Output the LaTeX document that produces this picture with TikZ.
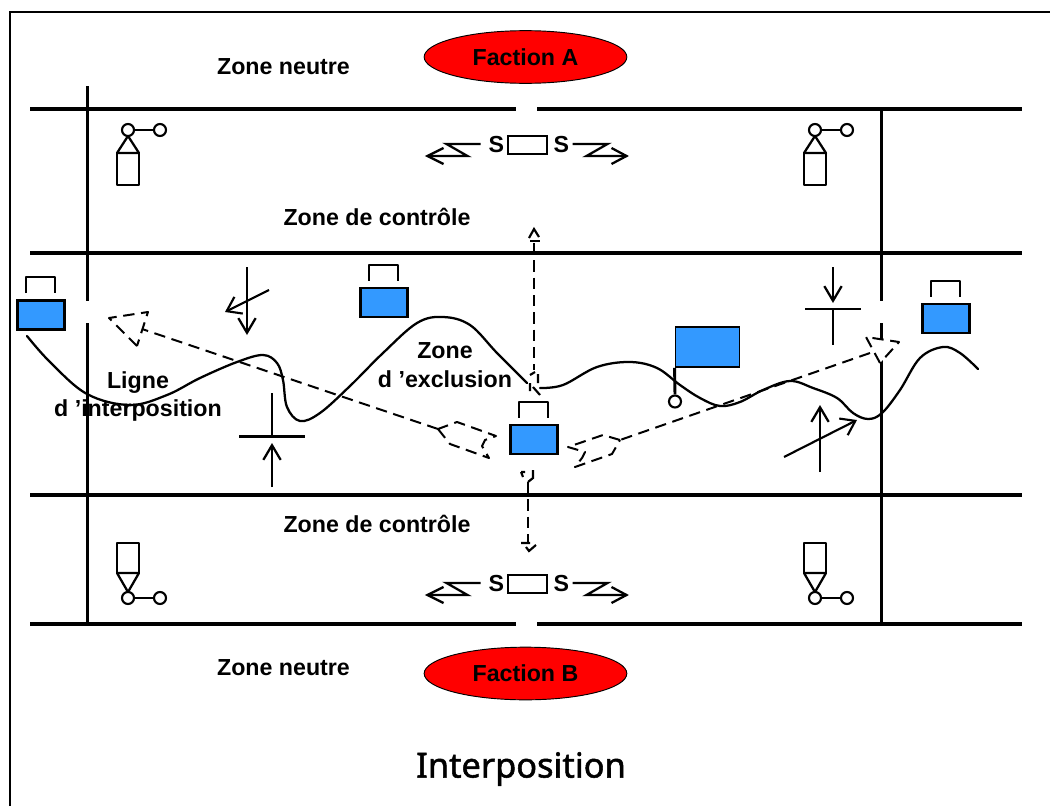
\documentclass[tikz,border=0pt]{standalone}
\usepackage{fontspec}
\setmainfont{Liberation Sans}
\newfontfamily\titlefont[FakeBold=1.5]{Noto Sans}
\usetikzlibrary{arrows.meta,shapes.geometric}
\definecolor{unitblue}{RGB}{51,153,255}
\tikzset{
  x=0.75pt,y=-0.75pt,
  wall/.style={line width=2.4pt},
  frontier/.style={line width=1.7pt,line cap=round},
  dashline/.style={line width=1.5pt,dash pattern=on 8.5pt off 5pt},
  dashvert/.style={line width=2.2pt,dash pattern=on 8.5pt off 4.5pt},
  tick/.style={line width=1.6pt},
  label/.style={font=\fontsize{17.4}{21.5}\selectfont\bfseries,inner sep=0pt,align=center},
  faction/.style={ellipse,draw=black,line width=0.7pt,fill=red,minimum width=152pt,minimum height=39.5pt,inner sep=0pt,font=\fontsize{17.4}{21}\selectfont\bfseries},
  unitbox/.style={draw=black,line width=1.8pt,fill=unitblue,minimum width=35.5pt,minimum height=21.5pt,inner sep=0pt},
  flagbox/.style={draw=black,line width=1.4pt,fill=unitblue,minimum width=48pt,minimum height=30pt,inner sep=0pt},
  ring/.style={circle,draw=black,line width=1.6pt,fill=white,minimum size=9pt,inner sep=0pt},
  smallbox/.style={draw=black,line width=1.6pt,fill=white,minimum width=29pt,minimum height=13pt,inner sep=0pt},
  arr/.style={line width=2pt,-{Straight Barb[length=11pt,width=13pt,line width=1.7pt]}},
  arrthin/.style={line width=1.6pt,-{Straight Barb[length=10pt,width=14pt,line width=1.6pt]}},
  bar/.style={line width=2pt},
  zig/.style={line width=1.7pt,line join=miter},
  sym/.style={line width=1.7pt,line join=round},
}
\newcommand{\bracketat}[2]{\draw[line width=1.5pt,line join=round] (#1-15,#2-22) -- (#1-15,#2-38) -- (#1+14,#2-38) -- (#1+14,#2-22);}
\newcommand{\obsup}[1]{%
  \draw[sym] (#1,136) -- (#1-11,153) -- (#1+11,153) -- cycle;
  \draw[sym] (#1-11,153) rectangle (#1+11,185);
  \node[ring] at (#1,130) {};
  \node[ring] at (#1+32,130) {};
  \draw[line width=2.2pt] (#1+6,130) -- (#1+26,130);}
\newcommand{\obsdown}[1]{%
  \draw[sym] (#1,592) -- (#1-11,573) -- (#1+11,573) -- cycle;
  \draw[sym] (#1-11,543) rectangle (#1+11,573);
  \node[ring] at (#1,598) {};
  \node[ring] at (#1+32,598) {};
  \draw[line width=2.2pt] (#1+6,598) -- (#1+26,598);}
\newcommand{\radio}[3]{%
  \node[smallbox] (sb#1) at (#2,#3) {};
  \node[label,anchor=east] at ([xshift=-2pt]sb#1.west) {S};
  \node[label,anchor=west] at ([xshift=4pt]sb#1.east) {S};
  \draw[zig] (#2-47,#3-1) -- (#2-81,#3-1) -- (#2-60,#3+11) -- (#2-100,#3+11);
  \draw[zig] (#2-84,#3+3) -- (#2-100,#3+11) -- (#2-84,#3+19);
  \draw[zig] (#2+45,#3-1) -- (#2+80,#3-1) -- (#2+59,#3+11) -- (#2+99,#3+11);
  \draw[zig] (#2+84,#3+3) -- (#2+99,#3+11) -- (#2+84,#3+19);}
\begin{document}
\begin{tikzpicture}
\useasboundingbox (0,0) rectangle (1050,807);
\fill[white] (0,0) rectangle (1050,807);
% frame
\draw[line width=1.5pt] (10,806) -- (10,12) -- (1050,12);
% zone lines
\draw[wall] (30,109) -- (516,109) (537,109) -- (1022,109);
\draw[wall] (30,253) -- (1022,253);
\draw[wall] (30,495) -- (1022,495);
\draw[wall] (30,624) -- (516,624) (537,624) -- (1022,624);
\draw[wall] (87.5,86) -- (87.5,300.5) (87.5,323) -- (87.5,624);
\draw[wall] (881.5,109) -- (881.5,300.5) (881.5,323) -- (881.5,624);
% factions
\node[faction] (fa) at (525.5,57) {Faction A};
\node[faction] (fb) at (525.5,673.5) {Faction B};
% front line
\draw[frontier] plot[smooth,tension=0.6] coordinates {(27,336) (50,362) (87,394) (130,405) (167,395) (200,378) (237,362) (263,355) (277,363) (283,380) (287,407) (300,421) (320,413) (350,386) (383,353) (417,323) (443,317) (470,325) (497,353) (527,383)};
\draw[frontier] plot[smooth,tension=0.6] coordinates {(540,388) (563,385) (597,367) (630,362) (657,368) (680,385) (700,398) (720,406) (740,402) (763,390) (790,381) (813,388) (837,398) (853,413) (868,419) (882,413) (900,390) (920,358) (943,347) (960,353) (978,369)};
% labels
\node[label] (zn1) at (283.5,67) {Zone neutre};
\node[label] (zn2) at (283.5,668) {Zone neutre};
\node[label] (zc1) at (377,217) {Zone de contrôle};
\node[label] (zc2) at (377,524) {Zone de contrôle};
\node[label] (li) at (138,396.5) {Ligne\\d ’interposition};
\node[label] (ze) at (445,365) {Zone\\d ’exclusion};
\node[font=\fontsize{25.8}{30}\selectfont\titlefont,inner sep=0pt] (title) at (521,769) {Interposition};
% observers
\obsup{128}\obsup{815}\obsdown{128}\obsdown{815}
% radios
\radio{top}{527.5}{145}
\radio{bottom}{527.5}{584}
% units
\node[unitbox] (u1) at (41,315) {}; \bracketat{41}{315}
\node[unitbox] (u2) at (384,302.5) {}; \bracketat{384}{302.5}
\node[unitbox] (u3) at (534,439.5) {}; \bracketat{534}{439.5}
\node[unitbox] (u4) at (946,318.5) {}; \bracketat{946}{318.5}
% flag
\node[flagbox] (flag) at (707.5,347) {};
\node[ring] (flagring) at (675,401.5) {};
\draw[line width=2.2pt] (flag.south west) -- (flagring.north);
% tactical arrows
\draw[arr] (247,267) -- (247,335);
\draw[arrthin] (269,290) -- (225,312);
\draw[bar] (239,436.5) -- (305,436.5);
\draw[bar] (272,393) -- (272,436.5);
\draw[arr] (272,487) -- (272,443);
\draw[bar] (805,309) -- (861,309);
\draw[arr] (833,267) -- (833,303);
\draw[bar] (833,309) -- (833,345);
\draw[arr] (820,472) -- (820,405);
\draw[arrthin] (784,457) -- (857,420);
% dashed movement arrows
\draw[dashline] (438,429) -- (142,329);
\draw[dashline,line join=round,fill=white] (137,346) -- (109,318) -- (148,312) -- cycle;
\draw[dashline,line join=round] (438,429) -- (450,444) -- (489,458) -- (482,446) -- (485,440) -- (496,436) -- (457,422) -- cycle;
\draw[dashline] (870,353) -- (620,440);
\draw[dashline,line join=round,fill=white] (880,363) -- (866,337) -- (899,342) -- cycle;
\draw[dashline,line join=round] (620,440) -- (603,435) -- (568,447) -- (585,452) -- (582,458) -- (575,467) -- (612,454) -- cycle;
\draw[dashvert] (534,243) -- (534,370);
\draw[tick] (530,241) -- (540,241);
\draw[tick] (529,238) -- (534,229) -- (539,237);
\draw[tick] (530,375) -- (535,372) (538,374) -- (538,383) (530,383) -- (530,391) (533,387) -- (540,395);
\draw[dashvert] (528,482) -- (528,542);
\draw[tick] (521,543) -- (530,543) (526,547) -- (529,551) -- (536,545);
\draw[tick] (528,482) -- (533,478) -- (533,470) (521,472) -- (525,472) (521,472) -- (523,477);
\end{tikzpicture}
\end{document}
